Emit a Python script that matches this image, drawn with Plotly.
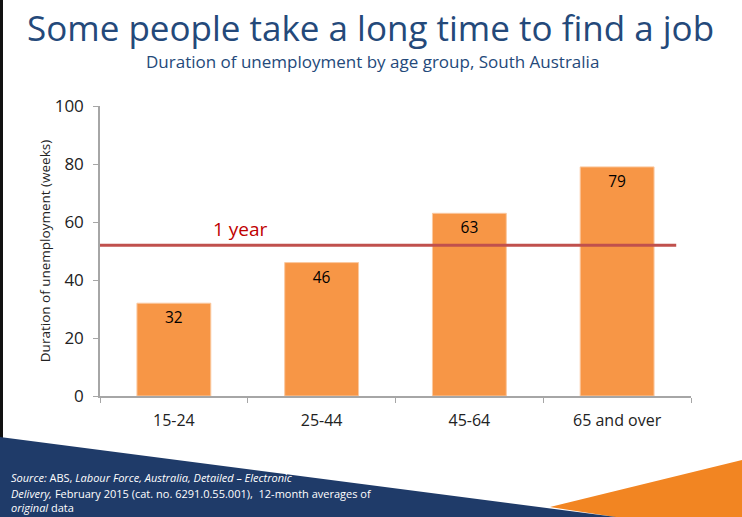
import plotly.graph_objects as go

categories = ["15-24", "25-44", "45-64", "65 and over"]
weeks = [32, 46, 63, 79]
one_year = 52
y_ticks = [0, 20, 40, 60, 80, 100]

W, H = 742, 517
L, R, T, B = 100, 691, 106, 396  # plot area in pixels

def px(x):
    return (x - L) / (R - L)

def py(y):
    return (B - y) / (B - T)

FONT = "Open Sans"

fig = go.Figure()
fig.add_trace(go.Bar(
    x=categories, y=weeks, width=0.5,
    marker=dict(color="#F79646", line=dict(color="#FBC9A0", width=1)),
    text=[str(v) for v in weeks], textposition="inside", insidetextanchor="end",
    textfont=dict(family=FONT, size=15.5, color="#000000"),
    cliponaxis=False, hoverinfo="skip",
))

shapes = [
    dict(type="line", xref="x", yref="y", x0=-0.5, x1=3.4, y0=one_year, y1=one_year,
         line=dict(color="#C0504D", width=3)),
    dict(type="line", xref="paper", yref="paper", x0=px(1.5), x1=px(1.5), y0=py(0), y1=py(H),
         line=dict(color="#111111", width=3)),
    dict(type="path", xref="paper", yref="paper",
         path=f"M {px(550)} {py(507)} L {px(742)} {py(460)} L {px(742)} {py(517)} L {px(615)} {py(517)} Z",
         fillcolor="#F28522", line=dict(width=0)),
    dict(type="path", xref="paper", yref="paper",
         path=f"M {px(0)} {py(437)} L {px(616)} {py(517)} L {px(0)} {py(517)} Z",
         fillcolor="#1F3B69", line=dict(width=0)),
]

SRC = 11
annotations = [
    dict(text="Some people take a long time to find a job", xref="paper", yref="paper",
         x=px(370), y=py(27), xanchor="center", yanchor="middle", showarrow=False,
         font=dict(family=FONT, size=35, color="#24497A")),
    dict(text="Duration of unemployment by age group, South Australia", xref="paper", yref="paper",
         x=px(372), y=py(62), xanchor="center", yanchor="middle", showarrow=False,
         font=dict(family=FONT, size=17, color="#24497A")),
    dict(text="1 year", xref="x", yref="y", x=0.45, y=57.6, xanchor="center", yanchor="middle",
         showarrow=False, font=dict(family=FONT, size=19, color="#C00000")),
    dict(text="<i>Source:</i> ABS, <i>Labour Force, Australia, Detailed – Electronic</i>",
         xref="paper", yref="paper", x=px(9), y=py(478), xanchor="left", yanchor="middle",
         showarrow=False, font=dict(family=FONT, size=SRC, color="white")),
    dict(text="<i>Delivery,</i> February 2015 (cat. no. 6291.0.55.001),  12-month averages of",
         xref="paper", yref="paper", x=px(9), y=py(493), xanchor="left", yanchor="middle",
         showarrow=False, font=dict(family=FONT, size=SRC, color="white")),
    dict(text="<i>original</i> data",
         xref="paper", yref="paper", x=px(9), y=py(508), xanchor="left", yanchor="middle",
         showarrow=False, font=dict(family=FONT, size=SRC, color="white")),
]

fig.update_layout(
    width=W, height=H,
    margin=dict(l=L, r=W - R, t=T, b=H - B, pad=0),
    paper_bgcolor="white", plot_bgcolor="white",
    showlegend=False, bargap=0.5,
    shapes=shapes, annotations=annotations,
    font=dict(family=FONT, color="#222222"),
)
fig.update_xaxes(
    range=[-0.5, 3.5], showgrid=False, showline=True, linecolor="#A6A6A6", linewidth=1.5,
    ticks="outside", ticklen=5, tickcolor="#A6A6A6", tickson="boundaries",
    ticklabelstandoff=9,
    tickfont=dict(family=FONT, size=16, color="#222222"), fixedrange=True,
)
fig.update_yaxes(
    range=[0, 100], tickvals=y_ticks, showgrid=False, zeroline=False, showline=True,
    linecolor="#A6A6A6", linewidth=1.5, ticks="outside", ticklen=5, tickcolor="#A6A6A6",
    ticklabelstandoff=6,
    tickfont=dict(family=FONT, size=17, color="#222222"),
    title=dict(text="Duration of unemployment (weeks)", standoff=1,
               font=dict(family=FONT, size=13.5, color="#222222")),
    fixedrange=True,
)

fig.write_html("out.html", config={"displayModeBar": False})
